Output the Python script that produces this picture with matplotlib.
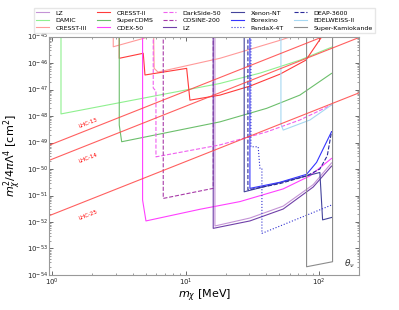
import numpy as np
import matplotlib
matplotlib.use('Agg')
import matplotlib.pyplot as plt
from matplotlib.ticker import LogLocator, NullFormatter

nan = np.nan

# 곡선 데이터: 질량 [MeV], log10(단면적 [cm^2])
lz1_m = [16.55, 16.55, 30.27, 53.76, 90.2, 123.8]
lz1_s = [-44.0, -52.15, -51.85, -51.40, -50.59, -49.77]

damic_m = [1.162, 1.162, 18.04, 35.96, 71.64, 123.8]
damic_s = [-44.0, -47.92, -46.77, -46.38, -45.89, -45.40]

cresst3_m = [2.863, 2.863, 4.804, 6.4, nan, 5.708, 5.8, 6.192, 18.04, 51.7, 75.0]
cresst3_s = [-44.0, -45.385, -45.07, -44.89, nan, -44.0, -46.2, -46.34, -45.82, -45.13, -44.85]

cresst2_m = [3.176, 3.176, 4.804, 4.949, 10.16, 10.75, 18.04, 30.27, 50.8, 79.5, 104.8, 115.0]
cresst2_s = [-44.0, -45.82, -45.63, -46.45, -46.20, -47.40, -47.21, -46.87, -46.42, -45.89, -45.0, -44.5]

supercdms_m = [3.176, 3.176, 3.311, 18.04, 40.36, 71.64, 123.8]
supercdms_s = [-44.0, -48.34, -48.97, -48.22, -47.71, -47.21, -46.39]

cdex_m = [4.75, 4.75, 5.034, 12.78, 25.47, 53.76, 85.2, 123.8]
cdex_s = [-44.0, -51.17, -51.96, -51.52, -51.23, -50.75, -50.26, -49.60]

darkside_m = [5.708, 5.708, 5.982, 5.982, 18.04, 40.36, 71.64, 123.8]
darkside_s = [-44.0, -46.94, -47.06, -49.54, -49.09, -48.60, -48.15, -47.58]

cosine_m = [6.784, 6.784, 16.07, 16.07]
cosine_s = [-44.0, -51.11, -50.73, -44.0]

lz2_m = [16.07, 16.07, 30.27, 53.76, 90.2, 123.8]
lz2_s = [-44.0, -52.24, -51.96, -51.51, -50.68, -49.89]

xenon_m = [27.42, 27.42, 101.2, 106.1, 123.8]
xenon_s = [-44.0, -50.86, -50.13, -51.92, -51.83]

borexino_m = [30.27, 30.27, 50.8, 80.46, 95.6, 123.8]
borexino_s = [-44.0, -50.73, -50.50, -50.20, -49.75, -48.59]

pandax_m = [30.79, 30.79, 34.91, 35.96, 37.23, 37.23, 123.8]
pandax_s = [-44.0, -49.16, -49.16, -49.97, -49.97, -52.43, -51.36]

deap_m = [29.24, 29.24, 50.8, 80.46, 101.2, 115.0, 123.8]
deap_s = [-44.0, -50.79, -50.55, -50.26, -50.0, -49.5, -48.59]

edelweiss_m = [51.7, 51.7, 53.76, 85.2, 123.8]
edelweiss_s = [-44.0, -48.30, -48.53, -48.15, -47.58]

superk_m = [80.46, 80.46, 126.0, 126.0]
superk_s = [-44.0, -53.69, -53.50, -44.0]

# LHC 직선 (양 끝점)
lhc_m = [0.95, 200.0]
lhc13_s = [-49.10, -44.46]
lhc14_s = [-49.67, -45.03]
lhc25_s = [-51.76, -47.12]

curves = [
    ('LZ', lz1_m, lz1_s, '#c493d6', '-'),
    ('DAMIC', damic_m, damic_s, '#8ff08f', '-'),
    ('CRESST-III', cresst3_m, cresst3_s, '#ff9a9a', '-'),
    ('CRESST-II', cresst2_m, cresst2_s, '#ff3b3b', '-'),
    ('SuperCDMS', supercdms_m, supercdms_s, '#6cbf6c', '-'),
    ('CDEX-50', cdex_m, cdex_s, '#ff40ff', '-'),
    ('DarkSide-50', darkside_m, darkside_s, '#f060f0', '--'),
    ('COSINE-200', cosine_m, cosine_s, '#a83aa8', '--'),
    ('LZ', lz2_m, lz2_s, '#7040a8', '-'),
    ('Xenon-NT', xenon_m, xenon_s, '#44449c', '-'),
    ('Borexino', borexino_m, borexino_s, '#3535ff', '-'),
    ('PandaX-4T', pandax_m, pandax_s, '#3030d0', ':'),
    ('DEAP-3600', deap_m, deap_s, '#2a2a9a', '--'),
    ('EDELWEISS-II', edelweiss_m, edelweiss_s, '#a6d8f2', '-'),
    ('Super-Kamiokande', superk_m, superk_s, '#8c8c8c', '-'),
]

fig = plt.figure(figsize=(3.99, 3.10), dpi=100)
ax = fig.add_axes([0.1236, 0.113, 0.777, 0.769])

for name, m, s, c, ls in curves:
    ax.plot(m, 10.0 ** np.array(s), color=c, ls=ls, lw=0.8, label=name)

for s in [lhc13_s, lhc14_s, lhc25_s]:
    ax.plot(lhc_m, 10.0 ** np.array(s), color='#ff4444', lw=0.8, alpha=0.85)

ax.set_xscale('log')
ax.set_yscale('log')
ax.set_xlim(0.95, 200)
ax.set_ylim(1e-54, 1e-45)

ax.text(1.85, 10 ** -48.26, 'LHC-13', color='red', fontsize=4, rotation=21, ha='center', va='center')
ax.text(1.85, 10 ** -49.58, 'LHC-14', color='red', fontsize=4, rotation=21, ha='center', va='center')
ax.text(1.85, 10 ** -51.74, 'LHC-25', color='red', fontsize=4, rotation=21, ha='center', va='center')
ax.text(0.985, 0.02, r'$\theta_\nu$', transform=ax.transAxes, fontsize=6.5, ha='right', va='bottom', color='#333333')

ax.yaxis.set_major_locator(LogLocator(base=10, numticks=20))
ax.yaxis.set_minor_locator(LogLocator(base=10, subs=np.arange(2, 10), numticks=100))
ax.yaxis.set_minor_formatter(NullFormatter())
ax.tick_params(which='both', direction='in', top=True, right=True, labelsize=5,
               colors='#555555', labelcolor='#222222', pad=1)
ax.tick_params(which='major', length=3, width=0.6)
ax.tick_params(which='minor', length=1.5, width=0.4)
for sp in ax.spines.values():
    sp.set_color('#999999')

ax.set_xlabel(r'$m_\chi$ [MeV]', fontsize=8, labelpad=0)
ax.set_ylabel(r'$m_\chi^2/4\pi\Lambda^4$ [cm$^2$]', fontsize=8, labelpad=2)

ax.legend(loc='lower center', bbox_to_anchor=(0.5, 1.0), ncol=5, fontsize=4.5,
          borderaxespad=0.6, handlelength=2.1, handletextpad=1.0, columnspacing=1.6,
          labelspacing=0.35, borderpad=0.35,
          frameon=True, fancybox=False, edgecolor='#e0e0e0')

fig.savefig('out.png', dpi=100)
